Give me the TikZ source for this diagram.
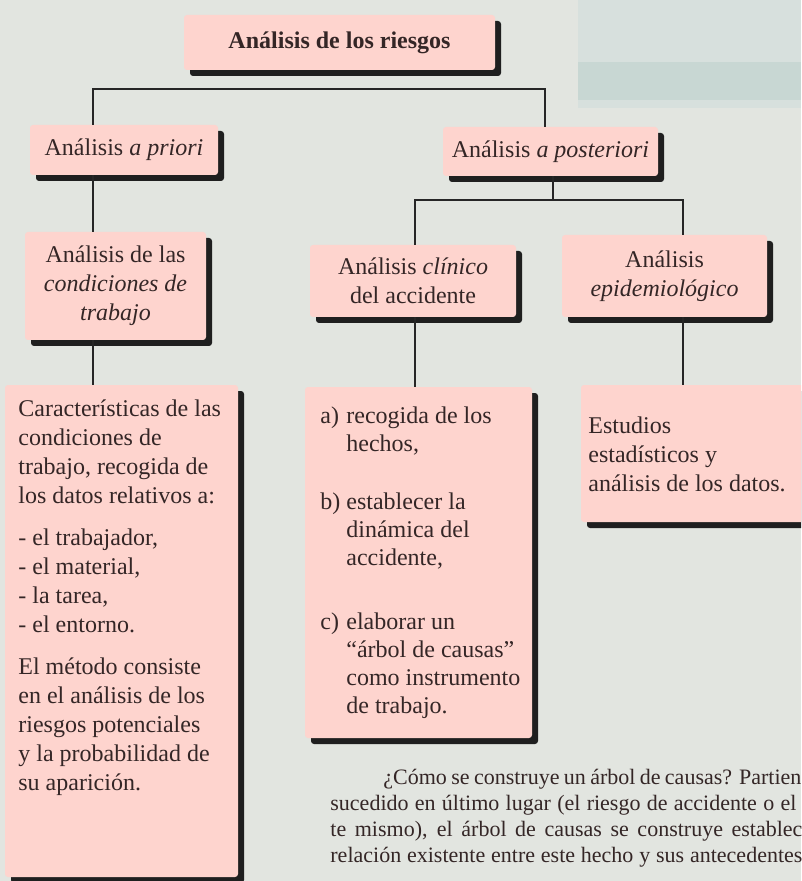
\documentclass[tikz,border=0pt]{standalone}
\usepackage{fontspec}
\setmainfont{Liberation Serif}
\usetikzlibrary{shadows}
\definecolor{paper}{RGB}{226,229,224}
\definecolor{pinkbox}{RGB}{254,212,206}
\definecolor{ink}{RGB}{52,38,38}
\definecolor{tealbox}{RGB}{215,224,221}
\definecolor{tealband}{RGB}{200,215,211}
\tikzstyle{riskbox}=[fill=pinkbox, rounded corners=1.5pt, inner sep=0pt, align=center, text=ink, font=\fontsize{12}{14.5}\selectfont, drop shadow={shadow xshift=3pt, shadow yshift=-3pt, fill=black!88, opacity=1}]
\tikzstyle{boxtext}=[anchor=base west, inner sep=0pt, text=ink, font=\fontsize{12}{14.5}\selectfont]
\tikzstyle{paratext}=[anchor=base west, inner sep=0pt, text=ink, font=\fontsize{11}{13}\selectfont]
\tikzstyle{link}=[draw, line width=0.6pt, black!85]

\begin{document}
\begin{tikzpicture}[x=0.5pt, y=-0.5pt]

    \fill[paper] (0,0) rectangle (801,881);
    \useasboundingbox (0,0) rectangle (801,881);
    \clip (0,0) rectangle (801,881);
    \fill[tealbox] (578,0) rectangle (801,108);
    \fill[tealband] (578,62) rectangle (801,100);

     \foreach \x/\y/\w/\h/\name/\txt in {339.5/42.5/311/55/riesgos/{\textbf{Análisis de los riesgos}},
        124/150/188/50/apriori/{Análisis \textit{a priori}},
        550.5/151.5/215/49/aposteriori/{Análisis \textit{a posteriori}},
        115.5/286/181/108/condiciones/{Análisis de las\\\textit{condiciones de}\\\textit{trabajo}},
        413/281/206/72/clinico/{Análisis \textit{clínico}\\del accidente},
        664.5/276/205/82/epidem/{Análisis\\\textit{epidemiológico}}}
        \node[riskbox, minimum width=\w*0.5pt, minimum height=\h*0.5pt] (\name) at (\x,\y) {\txt};

     \foreach \x/\y/\w/\h/\name in {121.5/631/233/492/trabajo, 418.5/562.5/227/351/accidente, 695.5/453.5/229/137/datos}
        \node[riskbox, minimum width=\w*0.5pt, minimum height=\h*0.5pt] (\name) at (\x,\y) {};

    \node[boxtext] (trabajotxt) at (18,416) {\begin{tabular}[t]{@{}l@{}}
        Características de las\\condiciones de\\trabajo, recogida de\\los datos relativos a:\\[6.5pt]
        - el trabajador,\\- el material,\\- la tarea,\\- el entorno.\\[6.5pt]
        El método consiste\\en el análisis de los\\riesgos potenciales\\y la probabilidad de\\su aparición.\end{tabular}};
    \node[boxtext, font=\fontsize{12}{14}\selectfont] (accidentetxt) at (320,423) {\begin{tabular}[t]{@{}l@{\ }l@{}}
        a)&recogida de los\\&hechos,\\[15pt]
        b)&establecer la\\&dinámica del\\&accidente,\\[18pt]
        c)&elaborar un\\&“árbol de causas”\\&como instrumento\\&de trabajo.\end{tabular}};
    \node[boxtext] (datostxt) at (588,433) {\begin{tabular}[t]{@{}l@{}}
        Estudios\\estadísticos y\\análisis de los datos.\end{tabular}};

    \coordinate (spineL) at (93,89);
    \coordinate (spineR) at (545,89);
    \coordinate (postL) at (415,200);
    \coordinate (postM) at (553,200);
    \coordinate (postR) at (683,200);

    \draw[link] (spineL |- apriori.north) -- (spineL) -- (spineR) -- (spineR |- aposteriori.north);
    \draw[link] (spineL |- apriori.south) -- (spineL |- condiciones.north);
    \draw[link] (spineL |- condiciones.south) -- (spineL |- trabajo.north);
    \draw[link] (postM |- aposteriori.south) -- (postM);
    \draw[link] (postL |- clinico.north) -- (postL) -- (postR) -- (postR |- epidem.north);
    \draw[link] (postL |- clinico.south) -- (postL |- accidente.north);
    \draw[link] (postR |- epidem.south) -- (postR |- datos.north);

%    text under the boxes
    \node[paratext] (par1) at (383,784) {\makebox[209pt][s]{¿Cómo se construye un árbol de causas? Partien}};
    \node[paratext] (par2) at (330,810) {\makebox[233pt][s]{sucedido en último lugar (el riesgo de accidente o el}};
    \node[paratext] (par3) at (330,836) {\makebox[236pt][s]{te mismo), el árbol de causas se construye establec}};
    \node[paratext] (par4) at (330,862) {\makebox[236pt][s]{relación existente entre este hecho y sus antecedentes}};

\end{tikzpicture}
\end{document}
